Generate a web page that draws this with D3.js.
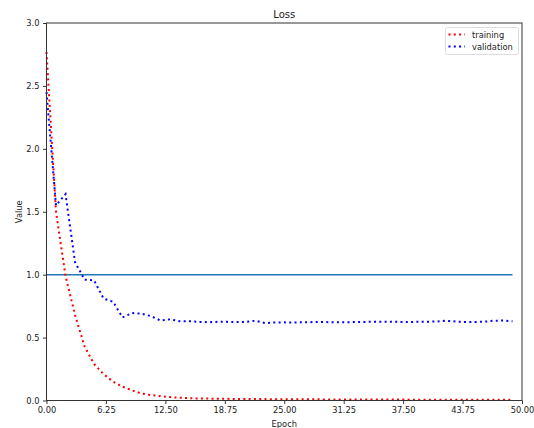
<!DOCTYPE html>
<html>
<head>
<meta charset="utf-8">
<script src="https://cdn.jsdelivr.net/npm/d3@7/dist/d3.min.js"></script>
<style>
  body { margin: 0; background: #fff; }
  svg text { font-family: "DejaVu Sans", sans-serif; fill: #222; }
</style>
</head>
<body>
<svg id="chart" width="534" height="428"></svg>
<script>
const epochs = d3.range(0, 50);
const training = [2.77, 1.50, 0.99, 0.68, 0.43, 0.29, 0.21, 0.15, 0.11, 0.08,
  0.055, 0.043, 0.035, 0.027, 0.022, 0.018, 0.016, 0.015, 0.014, 0.013,
  0.012, 0.012, 0.011, 0.011, 0.010, 0.010, 0.010, 0.009, 0.009, 0.009,
  0.008, 0.008, 0.008, 0.008, 0.007, 0.007, 0.007, 0.007, 0.007, 0.006,
  0.006, 0.006, 0.006, 0.006, 0.006, 0.005, 0.005, 0.005, 0.005, 0.005];
const validation = [2.45, 1.55, 1.64, 1.10, 0.96, 0.955, 0.81, 0.785, 0.66, 0.695,
  0.69, 0.67, 0.635, 0.645, 0.63, 0.63, 0.625, 0.622, 0.625, 0.625,
  0.623, 0.625, 0.634, 0.615, 0.62, 0.621, 0.62, 0.622, 0.623, 0.624,
  0.622, 0.621, 0.623, 0.624, 0.625, 0.626, 0.627, 0.625, 0.624, 0.625,
  0.626, 0.628, 0.634, 0.628, 0.624, 0.624, 0.626, 0.634, 0.635, 0.630];
const reference = epochs.map(() => 1.0);
const xTicks = [0, 6.25, 12.5, 18.75, 25, 31.25, 37.5, 43.75, 50];
const yTicks = [0, 0.5, 1.0, 1.5, 2.0, 2.5, 3.0];
const seriesNames = ["training", "validation"];
const seriesColors = ["#ff0000", "#0000ff"];

const svg = d3.select("#chart");
const L = 46.5, R = 522, T = 23, B = 400.5;
const x = d3.scaleLinear().domain([0, 50]).range([L, R]);
const y = d3.scaleLinear().domain([0, 3.0]).range([B, T]);

const line = d3.line().x((d, i) => x(epochs[i])).y(d => y(d));
svg.append("path").datum(reference).attr("d", line)
  .attr("fill", "none").attr("stroke", "#1f77b4").attr("stroke-width", 1.5);

const series = [training, validation];
series.forEach((s, k) => {
  svg.append("path").datum(s).attr("d", line)
    .attr("fill", "none").attr("stroke", seriesColors[k])
    .attr("stroke-width", 2).attr("stroke-dasharray", "2,3.3");
});

svg.append("rect").attr("x", L).attr("y", T).attr("width", R - L).attr("height", B - T)
  .attr("fill", "none").attr("stroke", "#333").attr("stroke-width", 1);

const FS = 8.3;
const xAxis = d3.axisBottom(x).tickValues(xTicks).tickFormat(d3.format(".2f")).tickSize(3.5).tickPadding(3.5);
const gx = svg.append("g").attr("transform", `translate(0,${B})`).call(xAxis);
const yAxis = d3.axisLeft(y).tickValues(yTicks).tickFormat(d3.format(".1f")).tickSize(3.5).tickPadding(3.5);
const gy = svg.append("g").attr("transform", `translate(${L},0)`).call(yAxis);
[gx, gy].forEach(g => {
  g.select(".domain").remove();
  g.selectAll(".tick line").attr("stroke", "#333");
  g.selectAll(".tick text").attr("font-size", FS).attr("font-family", "DejaVu Sans").attr("fill", "#222");
});

svg.append("text").attr("x", (L + R) / 2).attr("y", 18).attr("text-anchor", "middle")
  .attr("font-size", 10).text("Loss");
svg.append("text").attr("x", (L + R) / 2).attr("y", 426.5).attr("text-anchor", "middle")
  .attr("font-size", FS).text("Epoch");
svg.append("text").attr("transform", `translate(21.5,${(T + B) / 2}) rotate(-90)`)
  .attr("text-anchor", "middle").attr("font-size", FS).text("Value");

const lg = svg.append("g");
lg.append("rect").attr("x", 445.5).attr("y", 27.5).attr("width", 73).attr("height", 27)
  .attr("rx", 2).attr("fill", "#fff").attr("fill-opacity", 0.8).attr("stroke", "#ddd");
seriesNames.forEach((n, k) => {
  const yy = 34.5 + k * 12;
  lg.append("line").attr("x1", 448.5).attr("x2", 465).attr("y1", yy).attr("y2", yy)
    .attr("stroke", seriesColors[k]).attr("stroke-width", 2).attr("stroke-dasharray", "2,3.3");
  lg.append("text").attr("x", 472).attr("y", yy + 3).attr("font-size", FS).text(n);
});
</script>
</body>
</html>
